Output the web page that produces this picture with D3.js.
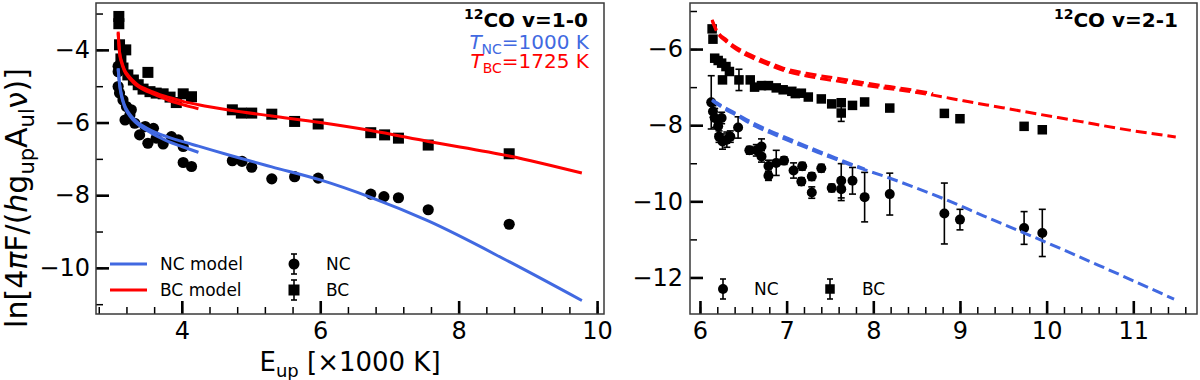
<!DOCTYPE html>
<html>
<head>
<meta charset="utf-8">
<script src="https://cdn.jsdelivr.net/npm/d3@7"></script>
<style>
  body { margin: 0; background: #fff; }
  svg { display: block; font-family: "DejaVu Sans", sans-serif; }
</style>
</head>
<body>
<div id="chart"></div>
<script>
// ---- v=1-0 : observed points (E_up in 1000 K, ln value) ----
var nc10E  = [3.08, 3.08, 3.08, 3.10, 3.15, 3.18, 3.20, 3.25, 3.27, 3.32, 3.39, 3.47, 3.51, 3.59, 3.63, 3.73, 3.85, 3.95, 4.02, 4.02, 4.14, 4.73, 4.87, 5.01, 5.30, 5.63, 5.97, 6.73, 6.92, 7.13, 7.56, 8.73];
var nc10Ln = [-4.45, -4.60, -5.01, -5.19, -5.38, -5.93, -5.56, -5.79, -5.65, -6.02, -6.34, -6.11, -6.57, -6.16, -6.43, -6.59, -6.39, -6.48, -6.66, -7.10, -7.21, -7.05, -7.07, -7.23, -7.55, -7.49, -7.53, -7.97, -8.04, -8.07, -8.40, -8.80];
var bc10E  = [3.09, 3.09, 3.10, 3.12, 3.15, 3.19, 3.22, 3.30, 3.37, 3.44, 3.51, 3.54, 3.63, 3.73, 3.83, 3.92, 4.02, 4.14, 4.73, 4.86, 5.01, 5.30, 5.63, 5.97, 6.73, 6.93, 7.13, 7.56, 8.73];
var bc10Ln = [-3.08, -3.28, -3.86, -4.25, -4.50, -4.00, -4.69, -4.83, -4.96, -5.08, -4.62, -5.15, -5.19, -5.21, -5.30, -5.45, -5.21, -5.29, -5.65, -5.74, -5.74, -5.77, -5.97, -6.04, -6.28, -6.34, -6.43, -6.62, -6.86];

// ---- v=1-0 : models (two branches each) ----
var mod10aE    = [3.08, 3.10, 3.13, 3.17, 3.22, 3.29, 3.37, 3.46, 3.56, 3.68, 3.80, 4.00, 4.24];
var ncMod10aLn = [-4.53, -4.95, -5.29, -5.55, -5.74, -5.92, -6.06, -6.18, -6.29, -6.41, -6.52, -6.66, -6.82];
var bcMod10aLn = [-3.54, -4.09, -4.36, -4.58, -4.73, -4.88, -5.01, -5.11, -5.19, -5.29, -5.38, -5.50, -5.62];
var mod10bE    = [3.08, 3.10, 3.13, 3.17, 3.22, 3.29, 3.37, 3.46, 3.56, 3.68, 3.80, 4.00, 4.24, 4.73, 5.30, 6.00, 6.73, 7.56, 8.73, 9.78];
var ncMod10bLn = [-4.50, -4.92, -5.25, -5.51, -5.70, -5.87, -6.01, -6.12, -6.22, -6.32, -6.40, -6.52, -6.65, -6.92, -7.22, -7.58, -8.06, -8.71, -9.83, -10.90];
var bcMod10bLn = [-3.50, -4.05, -4.32, -4.54, -4.69, -4.84, -4.97, -5.06, -5.14, -5.23, -5.30, -5.41, -5.51, -5.67, -5.82, -6.00, -6.22, -6.52, -6.92, -7.39];

// ---- v=2-1 : observed points with errors ----
var nc21E   = [6.13, 6.15, 6.17, 6.21, 6.22, 6.25, 6.26, 6.31, 6.35, 6.44, 6.57, 6.65, 6.71, 6.71, 6.79, 6.79, 6.88, 6.97, 7.08, 7.17, 7.18, 7.29, 7.29, 7.40, 7.52, 7.63, 7.63, 7.76, 7.90, 8.19, 8.82, 9.00, 9.74, 9.95];
var nc21Ln  = [-7.40, -7.64, -7.81, -8.03, -8.30, -7.81, -8.43, -8.38, -8.30, -8.06, -8.66, -8.66, -8.56, -8.82, -9.07, -9.33, -8.99, -8.93, -9.19, -9.48, -9.08, -9.35, -9.77, -9.13, -9.65, -9.46, -9.68, -9.46, -9.89, -9.81, -10.32, -10.48, -10.70, -10.83];
var nc21Err = [0.70, 0.15, 0.25, 0.20, 0.15, 0.15, 0.20, 0.20, 0.15, 0.28, 0.10, 0.15, 0.20, 0.15, 0.15, 0.12, 0.33, 0.10, 0.20, 0.10, 0.10, 0.10, 0.15, 0.10, 0.10, 0.45, 0.30, 0.35, 0.65, 0.55, 0.80, 0.27, 0.43, 0.62];
var bc21E   = [6.14, 6.15, 6.17, 6.21, 6.25, 6.26, 6.30, 6.34, 6.45, 6.58, 6.63, 6.71, 6.79, 6.88, 6.96, 7.06, 7.10, 7.17, 7.25, 7.40, 7.52, 7.63, 7.63, 7.76, 7.90, 8.19, 8.82, 9.00, 9.74, 9.95];
var bc21Ln  = [-5.47, -5.74, -6.24, -6.30, -6.37, -6.81, -6.46, -6.59, -6.81, -6.81, -7.00, -6.96, -6.96, -7.02, -7.07, -7.11, -7.17, -7.16, -7.26, -7.31, -7.44, -7.41, -7.68, -7.48, -7.39, -7.55, -7.69, -7.83, -8.03, -8.12];
var bc21Err = [0.08, 0.08, 0.08, 0.08, 0.08, 0.08, 0.08, 0.08, 0.28, 0.08, 0.08, 0.08, 0.08, 0.08, 0.08, 0.08, 0.08, 0.08, 0.08, 0.08, 0.08, 0.08, 0.22, 0.08, 0.08, 0.08, 0.08, 0.08, 0.08, 0.08];

// ---- v=2-1 : models ----
var ncMod21aE  = [6.14, 6.20, 6.28, 6.42, 6.60, 6.82, 7.05, 7.27, 7.50, 7.71, 7.90];
var ncMod21aLn = [-7.33, -7.42, -7.53, -7.70, -7.93, -8.16, -8.38, -8.59, -8.80, -8.99, -9.15];
var ncMod21bE  = [6.14, 6.20, 6.28, 6.42, 6.60, 6.82, 7.05, 7.27, 7.50, 7.71, 8.20, 8.82, 9.27, 9.71, 10.16, 10.60, 11.47];
var ncMod21bLn = [-7.35, -7.45, -7.57, -7.74, -7.98, -8.21, -8.43, -8.63, -8.84, -9.02, -9.40, -9.94, -10.38, -10.80, -11.24, -11.68, -12.57];
var bcMod21aE  = [6.14, 6.18, 6.23, 6.29, 6.38, 6.50, 6.65, 6.80, 6.96, 7.31, 7.67, 8.02, 8.38, 8.69];
var bcMod21aLn = [-5.23, -5.45, -5.62, -5.73, -5.90, -6.06, -6.22, -6.36, -6.50, -6.67, -6.80, -6.93, -7.05, -7.17];
var bcMod21bE  = [6.14, 6.18, 6.23, 6.29, 6.38, 6.50, 6.65, 6.80, 6.96, 7.31, 7.67, 8.02, 8.38, 8.69, 9.04, 9.49, 9.93, 10.38, 10.82, 11.49];
var bcMod21bLn = [-5.25, -5.48, -5.66, -5.78, -5.95, -6.12, -6.28, -6.42, -6.56, -6.74, -6.87, -6.99, -7.10, -7.21, -7.36, -7.54, -7.72, -7.90, -8.08, -8.31];

// ---- ticks ----
var leftXTicks  = [4, 6, 8, 10];
var leftYTicks  = [-10, -8, -6, -4];
var rightXTicks = [6, 7, 8, 9, 10, 11];
var rightYTicks = [-12, -10, -8, -6];

var BLUE = "#4169e1", RED = "#ff0000";

function zip(xs, ys, es) {
  return xs.map(function (d, i) { return { x: d, y: ys[i], e: es ? es[i] : 0 }; });
}

var svg = d3.select("#chart").append("svg")
            .attr("width", 1200)
            .attr("height", 380);

svg.append("rect").attr("width", 1200).attr("height", 380).attr("fill", "#fff");

function styleAxis(sel, w) {
  sel.select(".domain").remove();
  sel.selectAll(".tick line").attr("stroke", "#000").attr("stroke-width", w);
  sel.attr("font-size", 24).attr("font-family", "DejaVu Sans, sans-serif");
  sel.selectAll(".tick text").attr("fill", "#000");
}

function panel(p) {
  var x = d3.scaleLinear().domain(p.xDomain).range([p.left, p.right]);
  var y = d3.scaleLinear().domain(p.yDomain).range([p.bottom, p.top]);
  var g = svg.append("g");
  var fmt = d3.format("d");

  // minor ticks
  g.append("g").attr("transform", "translate(0," + p.bottom + ")")
   .call(d3.axisBottom(x).tickValues(p.xMinor).tickSize(-7).tickFormat(""))
   .call(styleAxis, 1.5);
  g.append("g").attr("transform", "translate(" + p.left + ",0)")
   .call(d3.axisLeft(y).tickValues(p.yMinor).tickSize(-7).tickFormat(""))
   .call(styleAxis, 1.5);
  // major ticks
  g.append("g").attr("transform", "translate(0," + p.bottom + ")")
   .call(d3.axisBottom(x).tickValues(p.xTicks).tickSize(-13).tickPadding(8).tickFormat(fmt))
   .call(styleAxis, 2.6);
  g.append("g").attr("transform", "translate(" + p.left + ",0)")
   .call(d3.axisLeft(y).tickValues(p.yTicks).tickSize(-13).tickPadding(p.yPad).tickFormat(fmt))
   .call(styleAxis, 2.6);

  g.append("rect")
   .attr("x", p.left).attr("y", p.top)
   .attr("width", p.right - p.left).attr("height", p.bottom - p.top)
   .attr("fill", "none").attr("stroke", "#3a3a3a").attr("stroke-width", 1.5);

  return { g: g, x: x, y: y };
}

function errorBars(pp, data, cap) {
  var eb = pp.g.append("g").attr("stroke", "#000").attr("stroke-width", 1.6);
  data.filter(function (d) { return d.e > 0; }).forEach(function (d) {
    var cx = pp.x(d.x), y1 = pp.y(d.y + d.e), y2 = pp.y(d.y - d.e);
    eb.append("line").attr("x1", cx).attr("x2", cx).attr("y1", y1).attr("y2", y2);
    eb.append("line").attr("x1", cx - cap).attr("x2", cx + cap).attr("y1", y1).attr("y2", y1);
    eb.append("line").attr("x1", cx - cap).attr("x2", cx + cap).attr("y1", y2).attr("y2", y2);
  });
}

function circles(pp, data, r) {
  pp.g.append("g").selectAll("circle").data(data).enter().append("circle")
     .attr("cx", function (d) { return pp.x(d.x); })
     .attr("cy", function (d) { return pp.y(d.y); })
     .attr("r", r).attr("fill", "#000");
}

function squares(pp, data, s) {
  pp.g.append("g").selectAll("rect").data(data).enter().append("rect")
     .attr("x", function (d) { return pp.x(d.x) - s / 2; })
     .attr("y", function (d) { return pp.y(d.y) - s / 2; })
     .attr("width", s).attr("height", s).attr("fill", "#000");
}

function model(pp, data, color, dash) {
  var line = d3.line()
               .x(function (d) { return pp.x(d.x); })
               .y(function (d) { return pp.y(d.y); })
               .curve(d3.curveMonotoneX);
  pp.g.append("path")
     .attr("d", line(data))
     .attr("fill", "none")
     .attr("stroke", color)
     .attr("stroke-width", 3)
     .attr("stroke-dasharray", dash || null);
}

// ================= left panel: v=1-0 =================
var L = panel({
  left: 96, right: 604, top: 3, bottom: 314,
  xDomain: [2.76, 10.1], yDomain: [-11.27, -2.71],
  xTicks: leftXTicks, yTicks: leftYTicks,
  xMinor: d3.range(2.8, 10.05, 0.4), yMinor: d3.range(-11, -2.8, 1),
  yPad: 6
});

circles(L, zip(nc10E, nc10Ln), 5.6);
squares(L, zip(bc10E, bc10Ln), 11);
model(L, zip(mod10aE, ncMod10aLn), BLUE);
model(L, zip(mod10bE, ncMod10bLn), BLUE);
model(L, zip(mod10aE, bcMod10aLn), RED);
model(L, zip(mod10bE, bcMod10bLn), RED);

// ================= right panel: v=2-1 =================
var R = panel({
  left: 690, right: 1197, top: 3, bottom: 314,
  xDomain: [5.885, 11.735], yDomain: [-12.96, -4.79],
  xTicks: rightXTicks, yTicks: rightYTicks,
  xMinor: d3.range(6, 11.75, 0.2), yMinor: d3.range(-12, -4.8, 1),
  yPad: 7
});

var nc21 = zip(nc21E, nc21Ln, nc21Err), bc21 = zip(bc21E, bc21Ln, bc21Err);
errorBars(R, nc21, 3.5);
errorBars(R, bc21, 3.5);
circles(R, nc21, 5);
squares(R, bc21, 9.5);
model(R, zip(bcMod21aE, bcMod21aLn), RED, "11,5");
model(R, zip(bcMod21bE, bcMod21bLn), RED, "11,5");
model(R, zip(ncMod21aE, ncMod21aLn), BLUE, "11,5");
model(R, zip(ncMod21bE, ncMod21bLn), BLUE, "11,5");

// ---- annotations ----
function bandLabel(x, y, txt) {
  var t = svg.append("text").attr("x", x).attr("y", y)
             .attr("text-anchor", "end").attr("font-weight", "bold").attr("font-size", 20);
  t.append("tspan").attr("font-size", 14).attr("dy", -8).text("12");
  t.append("tspan").attr("dy", 8).text(txt);
}
bandLabel(L.x.range()[1] - 16, 27, "CO v=1-0");
bandLabel(R.x.range()[1] - 19, 27, "CO v=2-1");

function tempLabel(x, y, sub, val, color) {
  var t = svg.append("text").attr("x", x).attr("y", y)
             .attr("text-anchor", "end").attr("font-size", 20).attr("fill", color);
  t.append("tspan").attr("font-style", "italic").text("T");
  t.append("tspan").attr("font-size", 14).attr("dy", 5).text(sub);
  t.append("tspan").attr("dy", -5).text("=" + val + " K");
}
tempLabel(L.x.range()[1] - 15, 49, "NC", 1000, BLUE);
tempLabel(L.x.range()[1] - 15, 68, "BC", 1725, RED);

// ---- legends ----
function legendMarker(g, cx, cy, kind, s) {
  g.append("line").attr("x1", cx).attr("x2", cx).attr("y1", cy - 10).attr("y2", cy + 10)
   .attr("stroke", "#000").attr("stroke-width", 1.6);
  [cy - 10, cy + 10].forEach(function (yy) {
    g.append("line").attr("x1", cx - 3).attr("x2", cx + 3).attr("y1", yy).attr("y2", yy)
     .attr("stroke", "#000").attr("stroke-width", 1.6);
  });
  if (kind === "circle") {
    g.append("circle").attr("cx", cx).attr("cy", cy).attr("r", s / 2).attr("fill", "#000");
  } else {
    g.append("rect").attr("x", cx - s / 2).attr("y", cy - s / 2).attr("width", s).attr("height", s).attr("fill", "#000");
  }
}
function legendText(g, x, y, txt) {
  g.append("text").attr("x", x).attr("y", y + 6).attr("font-size", 17).text(txt);
}

var lg = svg.append("g");
var l0 = L.x.range()[0], lb = L.y.range()[0];
lg.append("line").attr("x1", l0 + 14).attr("x2", l0 + 51).attr("y1", lb - 50).attr("y2", lb - 50)
  .attr("stroke", BLUE).attr("stroke-width", 3);
lg.append("line").attr("x1", l0 + 14).attr("x2", l0 + 51).attr("y1", lb - 24).attr("y2", lb - 24)
  .attr("stroke", RED).attr("stroke-width", 3);
legendText(lg, l0 + 64, lb - 50, "NC model");
legendText(lg, l0 + 64, lb - 24, "BC model");
legendMarker(lg, l0 + 198, lb - 50, "circle", 11);
legendMarker(lg, l0 + 198, lb - 24, "square", 11);
legendText(lg, l0 + 230, lb - 50, "NC");
legendText(lg, l0 + 230, lb - 24, "BC");

var rg = svg.append("g");
var r0 = R.x.range()[0], rb = R.y.range()[0];
legendMarker(rg, r0 + 33, rb - 25, "circle", 10);
legendText(rg, r0 + 64, rb - 25, "NC");
legendMarker(rg, r0 + 140, rb - 25, "square", 9.5);
legendText(rg, r0 + 172, rb - 25, "BC");

// ---- axis titles ----
var xl = svg.append("text").attr("x", (L.x.range()[0] + L.x.range()[1]) / 2).attr("y", 371)
            .attr("text-anchor", "middle").attr("font-size", 26);
xl.append("tspan").text("E");
xl.append("tspan").attr("font-size", 18).attr("dy", 6).text("up");
xl.append("tspan").attr("dy", -6).text(" [\u00d71000 K]");

var yl = svg.append("text").attr("transform", "translate(27,198) rotate(-90)")
            .attr("text-anchor", "middle").attr("font-size", 30);
yl.append("tspan").text("ln[4");
yl.append("tspan").attr("font-style", "italic").text("\u03c0");
yl.append("tspan").text("F/(");
yl.append("tspan").attr("font-style", "italic").text("h");
yl.append("tspan").text("g");
yl.append("tspan").attr("font-size", 21).attr("dy", 7).text("up");
yl.append("tspan").attr("dy", -7).text("A");
yl.append("tspan").attr("font-size", 21).attr("dy", 7).text("ul");
yl.append("tspan").attr("dy", -7).text("\u03bd)]");
</script>
</body>
</html>
